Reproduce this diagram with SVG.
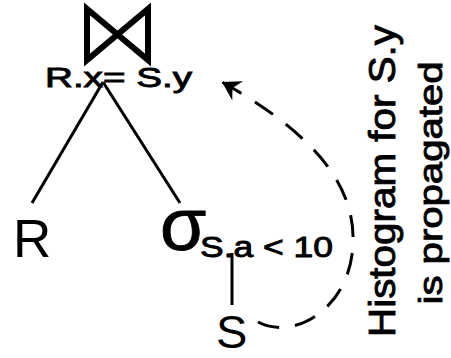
<svg xmlns="http://www.w3.org/2000/svg" width="451" height="358" viewBox="0 0 451 358">
  <style>
    .t { font-family: "Liberation Sans", Arial, sans-serif; fill: #000; }
    .m { stroke: #000; stroke-width: 0.9; }
    .edge { stroke: #000; stroke-width: 3; fill: none; stroke-linecap: butt; }
    .dash { stroke: #000; stroke-width: 3; fill: none; stroke-dasharray: 22 16; }
    .bow { stroke: #000; stroke-width: 6; fill: none; stroke-linejoin: miter; }
  </style>
  <defs>
    <marker id="arrow" markerUnits="userSpaceOnUse" markerWidth="26" markerHeight="26" viewBox="-20 -13 24 26" refX="0" refY="0" orient="auto">
      <path d="M0,0 L-18,-11 L-12,0 L-18,11 Z" fill="#000"/>
    </marker>
  </defs>
  <rect width="451" height="358" fill="#fff"/>

  <g id="connectors">
    <line class="edge" x1="103" y1="82" x2="32" y2="203"/>
    <line class="edge" x1="103" y1="82" x2="180" y2="203"/>
    <line class="edge" x1="232" y1="253" x2="232" y2="305"/>
    <path class="dash" d="M258,322 C292,340 344,312 352,255 C360,195 325,140 222,82" marker-end="url(#arrow)"/>
  </g>

  <g id="join">
    <path class="bow" d="M87,9 L87,60 L148,9 L148,60 Z"/>
    <text class="t m" x="45" y="87" font-size="28" textLength="147" lengthAdjust="spacingAndGlyphs">R.x= S.y</text>
  </g>

  <g id="R">
    <text class="t" x="13" y="257" font-size="53">R</text>
  </g>

  <g id="select">
    <text class="t m" x="160" y="250" font-size="75" stroke-width="2">σ</text>
    <text class="t m" x="200" y="257" font-size="29" textLength="133" lengthAdjust="spacingAndGlyphs">S.a &lt; 10</text>
  </g>

  <g id="S">
    <text class="t" x="216" y="348" font-size="47">S</text>
  </g>

  <g id="annotation">
    <text class="t m" transform="translate(395,181) rotate(-90)" x="0" y="0" font-size="37" text-anchor="middle" textLength="312" lengthAdjust="spacingAndGlyphs">Histogram for S.y</text>
    <text class="t m" transform="translate(442,183) rotate(-90)" x="0" y="0" font-size="34" text-anchor="middle" textLength="243" lengthAdjust="spacingAndGlyphs">is propagated</text>
  </g>
</svg>
